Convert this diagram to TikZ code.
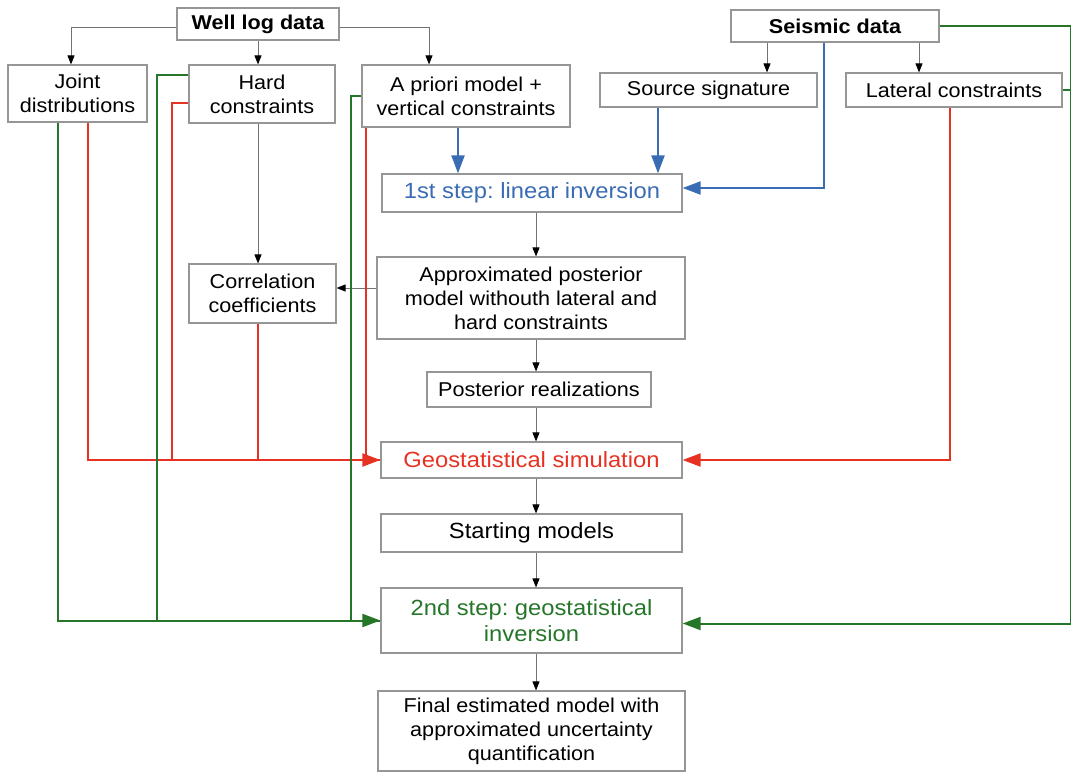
\documentclass[tikz,border=0pt]{standalone}
\usepackage{fontspec}
\setmainfont{Liberation Sans}[FakeStretch=1.08]
\usetikzlibrary{arrows.meta}
\frenchspacing

\definecolor{boxgray}{RGB}{150,150,150}
\definecolor{stepblue}{RGB}{58,108,180}
\definecolor{simred}{RGB}{230,50,35}
\definecolor{invgreen}{RGB}{38,118,42}

\begin{document}
\begin{tikzpicture}[x=1pt,y=-1pt,
    box/.style={draw=boxgray,line width=1.2pt,align=center,inner sep=0pt,font=\fontsize{20}{24}\selectfont},
    title/.style={box,font=\fontsize{20}{24}\selectfont\bfseries},
    bigbox/.style={box,font=\fontsize{22}{26}\selectfont},
    flow/.style={draw=black!55,line width=0.8pt,-{Triangle[black,length=9pt,width=7pt]}},
    blueline/.style={draw=stepblue,line width=2pt,-{Triangle[length=18pt,width=13pt]}},
    redline/.style={draw=simred,line width=2pt,-{Triangle[length=18pt,width=13pt]}},
    redplain/.style={draw=simred,line width=2pt},
    greenline/.style={draw=invgreen,line width=2pt,-{Triangle[length=18pt,width=13pt]}},
    greenplain/.style={draw=invgreen,line width=2pt}]

  \useasboundingbox (0,0) rectangle (1071,773);

  % Define the positions of the nodes
  \node[title,minimum width=162pt,minimum height=32pt] (welllog) at (258,24) {Well log data};
  \node[title,minimum width=208pt,minimum height=32pt] (seismic) at (835,26) {Seismic data};

  \node[box,minimum width=139pt,minimum height=57pt] (joint) at (77.5,93.5) {Joint\\distributions};
  \node[box,minimum width=146pt,minimum height=58pt] (hard) at (262,94) {Hard\\constraints};
  \node[box,minimum width=208pt,minimum height=62pt] (apriori) at (466,96) {A priori model +\\vertical constraints};
  \node[box,minimum width=217pt,minimum height=34pt] (source) at (708.5,90) {Source signature};
  \node[box,minimum width=216pt,minimum height=34pt] (lateral) at (954,90) {Lateral constraints};

  \node[bigbox,text=stepblue,minimum width=300pt,minimum height=38pt] (step1) at (532,193) {1st step: linear inversion};
  \node[box,minimum width=147pt,minimum height=59pt] (corr) at (262.5,293.5) {Correlation\\coefficients};
  \node[box,minimum width=308pt,minimum height=82pt] (approx) at (531,298) {Approximated posterior\\model withouth lateral and\\hard constraints};
  \node[box,minimum width=224pt,minimum height=35pt] (post) at (539,389.5) {Posterior realizations};
  \node[bigbox,text=simred,minimum width=301pt,minimum height=36pt] (geo) at (531.5,460) {Geostatistical simulation};
  \node[bigbox,minimum width=301pt,minimum height=38pt] (start) at (531.5,533) {Starting models};
  \node[bigbox,text=invgreen,minimum width=301pt,minimum height=65pt] (step2) at (531.5,620.5) {2nd step: geostatistical\\inversion};
  \node[box,minimum width=307pt,minimum height=80pt] (final) at (531.5,731) {Final estimated model with\\approximated uncertainty\\quantification};

  % tap points on the box borders
  \coordinate (spine) at ([xshift=4pt]step1.south);
  \coordinate (hardtap) at ([xshift=-4pt]hard.south);
  \coordinate (corrtap) at ([yshift=10pt]approx.west);
  \coordinate (sigtap) at ([xshift=-68pt]seismic.south);
  \coordinate (lattap) at ([xshift=84pt]seismic.south);
  \coordinate (aptap) at ([xshift=-8pt]apriori.south);
  \coordinate (srctap) at ([xshift=-50.5pt]source.south);
  \coordinate (seistap) at ([xshift=-11pt]seismic.south);

  % Draw the edges
  \draw[flow] ([yshift=-3pt]welllog.west) -| ([xshift=-6.5pt]joint.north);
  \draw[flow] (welllog.south) -- (welllog.south |- hard.north);
  \draw[flow] ([yshift=-3pt]welllog.east) -| ([xshift=-37pt]apriori.north);
  \draw[flow] (sigtap) -- (sigtap |- source.north);
  \draw[flow] (lattap) -- (lattap |- lateral.north);
  \draw[flow] (hardtap) -- (hardtap |- corr.north);
  \draw[flow] (corrtap) -- (corrtap -| corr.east);

  \draw[flow] (spine |- step1.south) -- (spine |- approx.north);
  \draw[flow] (spine |- approx.south) -- (spine |- post.north);
  \draw[flow] (spine |- post.south) -- (spine |- geo.north);
  \draw[flow] (spine |- geo.south) -- (spine |- start.north);
  \draw[flow] (spine |- start.south) -- (spine |- step2.north);
  \draw[flow] (spine |- step2.south) -- (spine |- final.north);

  % linear inversion inputs
  \draw[blueline] (aptap) -- (aptap |- step1.north);
  \draw[blueline] (srctap) -- (srctap |- step1.north);
  \draw[blueline] (seistap) |- ([yshift=5pt]step1.east);

  % simulation inputs
  \draw[redplain] ([yshift=-9pt]hard.west) -- ++(-16,0) |- (geo.west);
  \draw[redplain] ([xshift=-4.5pt]corr.south) |- (geo.west);
  \draw[redplain] ([xshift=-100pt]apriori.south) |- (geo.west);
  \draw[redline] ([xshift=10.5pt]joint.south) |- (geo.west);
  \draw[redline] ([xshift=-4pt]lateral.south) |- (geo.east);

  % geostatistical inversion inputs
  \draw[greenplain] ([yshift=19pt]hard.west) -- ++(-31,0) |- (step2.west);
  \draw[greenplain] (apriori.west) -- ++(-10,0) |- (step2.west);
  \draw[greenline] ([xshift=-19.5pt]joint.south) |- (step2.west);
  \draw[greenplain] (lateral.east) -- ++(8,0);
  \draw[greenline] (seismic.east) -- ++(131,0) |- ([yshift=-3pt]step2.east);
\end{tikzpicture}
\end{document}
